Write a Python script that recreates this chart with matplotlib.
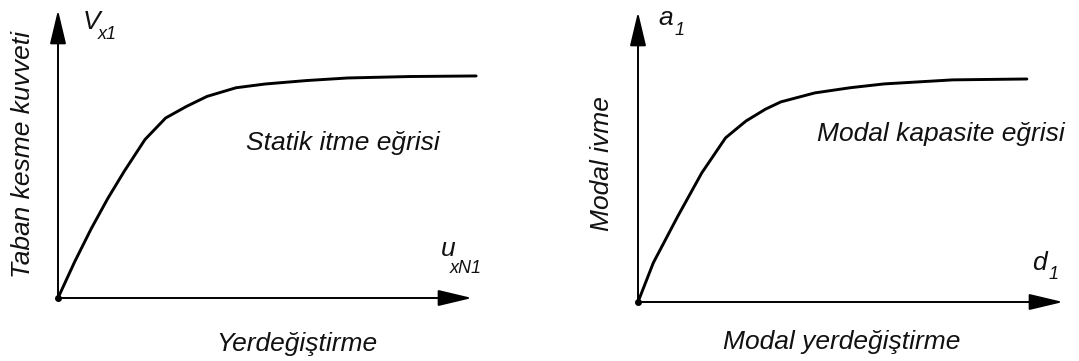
import matplotlib
matplotlib.use("Agg")
import matplotlib.pyplot as plt

plt.rcParams['font.family'] = ['Liberation Sans', 'DejaVu Sans']

# static pushover curve (base shear vs roof displacement), axis length = 100
push_x = [0, 4, 8, 12, 16, 21, 26, 31, 36, 43, 50, 60, 70, 85, 101]
push_y = [0, 12.5, 24, 34.5, 44, 55, 62.5, 66.5, 70, 73, 74.3, 75.5, 76.4, 76.9, 77.1]

# modal capacity curve (modal acceleration vs modal displacement)
cap_x = [0, 3.6, 9.3, 15.0, 20.6, 25.4, 30, 33.6, 41.6, 50, 57.9, 74.1, 91.5]
cap_y = [0, 13.5, 29.4, 44.5, 56.6, 62.4, 66.5, 69.0, 72.1, 73.9, 75.2, 76.6, 76.9]

W, H = 1079, 361
fig = plt.figure(figsize=(W / 100, H / 100), dpi=100)
fig.patch.set_facecolor('white')

big = 19
small = 13


def draw_panel(ax, xs, ys):
    ax.set_xlim(0, 100)
    ax.set_ylim(0, 100)
    ax.axis('off')
    arrow = dict(arrowstyle='-|>,head_length=2.1,head_width=0.5', lw=1.4,
                 color='black', shrinkA=0, shrinkB=0, mutation_scale=10)
    ax.annotate('', xy=(100, 0), xytext=(0, 0), arrowprops=arrow, annotation_clip=False)
    ax.annotate('', xy=(0, 100), xytext=(0, 0), arrowprops=arrow, annotation_clip=False)
    ax.plot(xs, ys, color='black', lw=2.1, clip_on=False,
            solid_joinstyle='round', solid_capstyle='round')
    ax.plot(xs[0], ys[0], 'o', color='black', ms=4, clip_on=False)


def label(ax, x, y, s, size=big, **kw):
    ax.text(x, y, s, fontsize=size, style='italic', color='#111111', clip_on=False, **kw)


# left panel
ax1 = fig.add_axes([58 / W, 63 / H, 414 / W, 288 / H])
draw_panel(ax1, push_x, push_y)
label(ax1, 6.0, 93.4, 'V', ha='left', va='baseline')
label(ax1, 9.6, 90.0, 'x1', size=small, ha='left', va='baseline')
label(ax1, 92.5, 14.6, 'u', ha='left', va='baseline')
label(ax1, 94.6, 8.7, 'xN1', size=small, ha='left', va='baseline')
label(ax1, 45.3, 51.4, 'Statik itme eğrisi', ha='left', va='baseline')
label(ax1, -8.5, 49.7, 'Taban kesme kuvveti', rotation=90, ha='center', va='center')
label(ax1, 57.7, -18.4, 'Yerdeğiştirme', ha='center', va='baseline')

# right panel
ax2 = fig.add_axes([638 / W, 59 / H, 425 / W, 290 / H])
draw_panel(ax2, cap_x, cap_y)
label(ax2, 4.7, 95.5, 'a', ha='left', va='baseline')
label(ax2, 8.7, 92.1, '1', size=small, ha='left', va='baseline')
label(ax2, 92.7, 11.0, 'd', ha='left', va='baseline')
label(ax2, 96.7, 7.9, '1', size=small, ha='left', va='baseline')
label(ax2, 42.1, 55.5, 'Modal kapasite eğrisi', ha='left', va='baseline')
label(ax2, -8.5, 47.9, 'Modal ivme', rotation=90, ha='center', va='center')
label(ax2, 48, -16.2, 'Modal yerdeğiştirme', ha='center', va='baseline')

fig.savefig('out.png', dpi=100, facecolor='white')
